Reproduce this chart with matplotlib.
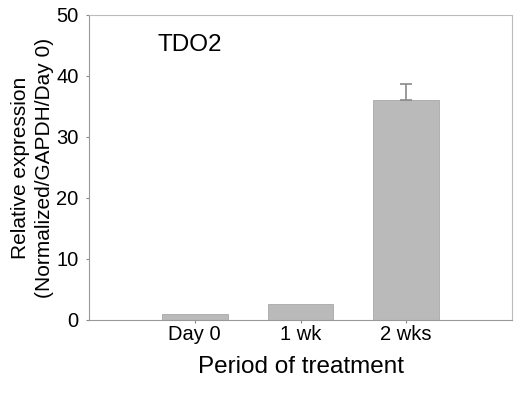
import matplotlib
matplotlib.use("Agg")
import matplotlib.pyplot as plt

# ---- data ----
periods = ["Day 0", "1 wk", "2 wks"]
expression = [1.0, 2.6, 36.0]
err_up = [0.0, 0.0, 2.7]

plt.rcParams["font.family"] = ["Liberation Sans", "DejaVu Sans"]

fig = plt.figure(figsize=(5.15, 3.94), dpi=100)
ax = fig.add_axes([0.173, 0.188, 0.821, 0.774])

x = list(range(len(periods)))
ax.bar(x, expression, width=0.62, color="#bababa", edgecolor="#a8a8a8", lw=0.6)
# upper half of the error bar only
ax.errorbar(x[2:], expression[2:], yerr=[[0] * len(err_up[2:]), err_up[2:]], fmt="none",
            ecolor="#8a8a8a", capsize=4, elinewidth=1.2, capthick=1.2)

ax.set_xlim(-1, 3)
ax.set_ylim(0, 50)
ax.set_yticks([0, 10, 20, 30, 40, 50])
ax.set_xticks(x)
ax.set_xticklabels(periods)
ax.tick_params(axis="both", labelsize=14.5, length=2, width=0.8, color="#888888")
ax.tick_params(axis="x", pad=1.5)
ax.tick_params(axis="y", pad=5.5)

for s in ax.spines.values():
    s.set_color("#999999"); s.set_linewidth(0.8)
ax.spines["top"].set_linestyle((0, (2, 1)))
ax.spines["right"].set_linestyle((0, (2, 1)))
ax.spines["top"].set_color("#bbbbbb")
ax.spines["right"].set_color("#bbbbbb")

ax.text(-0.05, 45.0, "TDO2", ha="center", va="center", fontsize=17.5)
ax.set_xlabel("Period of treatment", fontsize=17.5, labelpad=9)
ax.set_ylabel("Relative expression\n(Normalized/GAPDH/Day 0)", fontsize=15, labelpad=2,
              linespacing=1.3)

fig.savefig("out.png", dpi=100)
